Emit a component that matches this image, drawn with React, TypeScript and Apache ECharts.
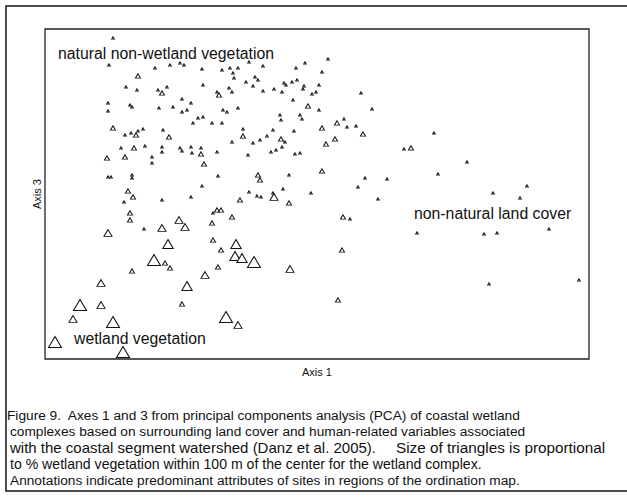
import React, { useEffect, useRef } from "react";
import * as echarts from "echarts";

// PCA scores (Axis 1, Axis 3) and % wetland vegetation within 100 m for each site
const axis1Scores: number[] = [
  -1.32, -1.36, -0.90, -0.75, -0.65, -0.61, -0.43, -0.23, -0.15, -0.12, -0.11, -0.07, 0.04, 0.18, 0.51, 0.60, 0.83, 0.77,
  -1.07, -1.19, -1.08, -0.87, -0.83, -0.78, -0.42, -0.28, -0.26, -0.16, -0.13, 0.01, 0.10, 0.13, 0.08, 0.18, 0.29, 0.37,
  0.39, 0.41, 0.47, 0.52, 0.59, 0.58, 0.74, 0.71, 0.67, 1.16, -0.63,
  -1.37, -1.37, -1.15, -1.13, -0.86, -0.72, -0.63, -0.58, -0.54, -0.52, -0.47, -0.42, -0.33, -0.23, -0.22, -0.18, -0.07,
  0.35, 0.36, 0.48, 0.55, 0.57, 0.63, 0.74, 1.27, 0.99, 0.92, 0.77, 1.02, 1.11, 1.18, 0.90, 0.81,
  -1.32, -1.20, -1.14, -1.09, -1.07, -1.02, -0.82, -0.76, -0.02, -0.02, -0.13, 0.08, 0.15, 0.22, 0.28, 0.36, 0.40, 0.49,
  1.89, 1.59, 1.66,
  -1.24, -1.11, -1.00, -0.83, -0.83, -0.65, -0.63, -0.54, -0.53, -0.44, -0.44, -0.28, 0.03, 0.26, 0.31, 0.37, 0.50, 0.55,
  -1.38, -1.20, -0.93, -0.93, -0.41, -1.37, -1.34, -1.13, -1.13, -0.27, 0.13, 0.15, 0.44, 0.77, 1.20, 1.42, 1.13, 1.93,
  2.22, 2.82, -0.43, -1.17, -1.12, -0.83, -0.54, 0.04, 0.28, 0.38, 0.66, 2.48, 2.75, 1.33,
  -1.21, -0.05, 0.12, 0.16, 0.29, 0.44, 0.98, 1.05, -1.15, -1.15, -0.32, -0.28, -0.24, -1.37, -1.01, -0.83, -0.66, -0.60,
  -0.33, -0.13, 1.72, 2.39, 2.52, 3.04, -0.77, -0.32, -0.24, -0.09, -0.10, -0.03, 0.09, 0.97, -0.91, -0.80, -0.75, -1.13,
  -0.27, -0.40, 0.45, -1.44, -0.58, 2.44, 3.34, 0.93, -1.65, -1.44, -0.63, -1.72, -1.32, -0.19, -0.07, -1.90, -1.22,
];

const axis3Scores: number[] = [
  1.71, 1.44, 1.41, 1.44, 1.46, 1.44, 1.40, 1.39, 1.41, 1.36, 1.31, 1.41, 1.47, 1.43, 1.41, 1.46, 1.50, 1.37,
  1.33, 1.22, 1.19, 1.19, 1.16, 1.22, 1.24, 1.17, 1.14, 1.21, 1.17, 1.27, 1.32, 1.29, 1.23, 1.18, 1.20, 1.17,
  1.26, 1.24, 1.27, 1.29, 1.23, 1.20, 1.24, 1.17, 1.15, 1.16, 1.10,
  1.06, 0.98, 1.04, 1.02, 1.01, 1.02, 0.97, 0.99, 1.06, 0.86, 0.91, 0.92, 0.86, 0.86, 0.99, 0.97, 1.01,
  0.94, 0.89, 1.09, 0.94, 0.90, 1.03, 0.99, 1.00, 0.90, 0.86, 0.81, 0.82, 0.83, 0.75, 0.70, 0.65,
  0.81, 0.74, 0.76, 0.74, 0.78, 0.80, 0.79, 0.72, 0.80, 0.73, 0.67, 0.66, 0.69, 0.73, 0.79, 0.70, 0.67, 0.78,
  0.76, 0.60, 0.61,
  0.61, 0.61, 0.63, 0.62, 0.57, 0.61, 0.58, 0.62, 0.56, 0.61, 0.55, 0.57, 0.54, 0.57, 0.59, 0.62, 0.55, 0.56,
  0.51, 0.52, 0.52, 0.46, 0.45, 0.32, 0.32, 0.34, 0.31, 0.33, 0.34, 0.29, 0.34, 0.38, 0.31, 0.30, 0.22, 0.35,
  0.47, 0.23, 0.23, 0.18, 0.12, 0.09, 0.12, 0.17, 0.16, 0.20, 0.16, 0.16, 0.11, 0.10,
  0.07, 0.09, 0.13, 0.12, 0.12, 0.06, -0.08, -0.10, -0.04, -0.11, -0.04, -0.01, -0.01, -0.24, -0.20, -0.19, -0.11, -0.18,
  -0.14, -0.08, -0.24, -0.25, -0.24, -0.20, -0.35, -0.31, -0.41, -0.35, -0.47, -0.49, -0.53, -0.41, -0.51, -0.54, -0.59, -0.62,
  -0.58, -0.66, -0.60, -0.74, -0.77, -0.75, -0.71, -0.91, -0.96, -0.96, -0.95, -1.10, -1.13, -1.08, -1.16, -1.33, -1.43,
];

const wetlandPct: number[] = [
  5, 5, 5, 5, 5, 5, 5, 5, 5, 5, 5, 5, 5, 5, 5, 5, 5, 5,
  25, 5, 5, 5, 25, 5, 5, 5, 25, 5, 5, 5, 5, 5, 5, 5, 5, 5,
  5, 5, 5, 5, 5, 5, 5, 5, 5, 5, 5,
  5, 5, 5, 5, 5, 5, 5, 5, 5, 5, 5, 5, 5, 5, 5, 5, 5,
  5, 5, 5, 5, 5, 25, 5, 5, 5, 25, 25, 5, 5, 25, 25, 25,
  25, 5, 5, 25, 5, 5, 5, 25, 5, 25, 5, 5, 5, 5, 5, 25, 5, 5,
  5, 5, 25,
  5, 25, 5, 5, 5, 5, 5, 5, 5, 5, 25, 5, 5, 5, 5, 5, 5, 5,
  25, 25, 5, 5, 25, 5, 5, 5, 5, 5, 25, 25, 5, 25, 5, 5, 5, 5,
  5, 5, 5, 25, 25, 5, 5, 5, 5, 5, 5, 5, 5, 5,
  5, 25, 5, 5, 50, 25, 25, 5, 25, 25, 5, 25, 25, 50, 5, 50, 50, 50,
  25, 25, 5, 5, 5, 5, 70, 25, 25, 70, 70, 70, 92, 25, 92, 25, 25, 25,
  25, 50, 50, 50, 70, 5, 5, 25, 92, 50, 25, 50, 92, 92, 50, 92, 92,
];

const annotations: { text: string; x: number; y: number }[] = [
  { text: "natural non-wetland vegetation", x: 58, y: 53 },
  { text: "non-natural land cover", x: 414, y: 213 },
  { text: "wetland vegetation", x: 74, y: 338 },
];

// caption segments: text, left x, line index, font size
const captionSegments: { text: string; x: number; line: number; size: number }[] = [
  { text: "Figure 9.  Axes 1 and 3 from principal components analysis (PCA) of coastal wetland", x: 7, line: 0, size: 13.7 },
  { text: "complexes based on surrounding land cover and human-related variables associated", x: 10, line: 1, size: 13.7 },
  { text: "with the coastal segment watershed (Danz et al. 2005).", x: 10, line: 2, size: 15 },
  { text: "Size of triangles is proportional", x: 396, line: 2, size: 15.3 },
  { text: "to % wetland vegetation within 100 m of the center for the wetland complex.", x: 10, line: 3, size: 14.1 },
  { text: "Annotations indicate predominant attributes of sites in regions of the ordination map.", x: 10, line: 4, size: 13.7 },
];

const FONT = '"Liberation Sans", Arial, Helvetica, sans-serif';

export default function App() {
  const ref = useRef<HTMLDivElement>(null);

  useEffect(() => {
    if (!ref.current) return;
    const chart = echarts.init(ref.current, null, { renderer: "svg" });

    const points = axis1Scores.map((x, i) => [x, axis3Scores[i], wetlandPct[i]]);
    points.sort((a, b) => b[2] - a[2]);

    const graphics: any[] = [
      {
        type: "rect",
        shape: { x: 6, y: 6, width: 700, height: 485 },
        style: { fill: "none", stroke: "#111", lineWidth: 1.5 },
        silent: true,
      },
    ];
    annotations.forEach((a) =>
      graphics.push({
        type: "text",
        x: a.x,
        y: a.y,
        style: {
          text: a.text,
          fontSize: 15.8,
          fontFamily: FONT,
          fill: "#111",
          verticalAlign: "middle",
        },
      })
    );
    captionSegments.forEach((s) =>
      graphics.push({
        type: "text",
        x: s.x,
        y: 415 + s.line * 16.3,
        style: {
          text: s.text,
          fontSize: s.size,
          fontFamily: FONT,
          fill: "#111",
          verticalAlign: "middle",
        },
      })
    );

    chart.setOption({
      animation: false,
      backgroundColor: "#fff",
      grid: {
        left: 45,
        top: 29,
        width: 544,
        height: 330,
        show: true,
        borderColor: "#222",
        borderWidth: 1.3,
      },
      xAxis: {
        type: "value",
        min: -2.0,
        max: 3.44,
        name: "Axis 1",
        nameLocation: "middle",
        nameGap: 7,
        nameTextStyle: { fontSize: 11, fontFamily: FONT, color: "#111" },
        axisLine: { show: false },
        axisTick: { show: false },
        axisLabel: { show: false },
        splitLine: { show: false },
      },
      yAxis: {
        type: "value",
        min: -1.5,
        max: 1.8,
        name: "Axis 3",
        nameLocation: "middle",
        nameGap: 3,
        nameTextStyle: { fontSize: 11, fontFamily: FONT, color: "#111" },
        axisLine: { show: false },
        axisTick: { show: false },
        axisLabel: { show: false },
        splitLine: { show: false },
      },
      series: [
        {
          type: "scatter",
          data: points,
          symbol: "triangle",
          symbolSize: (v: number[]) => {
            const w = 2 + v[2] * 0.12;
            return [w, w * 0.85];
          },
          itemStyle: { color: "#fff", borderColor: "#111", borderWidth: 1, opacity: 1 },
          emphasis: { disabled: true },
        },
      ],
      graphic: graphics,
    });

    return () => chart.dispose();
  }, []);

  return (
    <div
      ref={ref}
      style={{ position: "fixed", left: 0, top: 0, width: 627, height: 502, background: "#fff" }}
    />
  );
}
